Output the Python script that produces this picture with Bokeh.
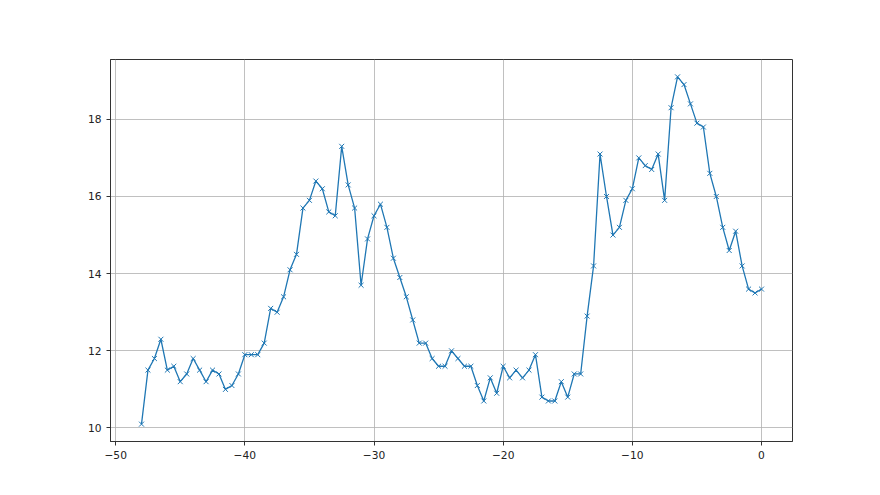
from bokeh.plotting import figure
from bokeh.models import Range1d, FixedTicker
from bokeh.embed import file_html
from bokeh.resources import INLINE

x_start = -48.0
x_step = 0.5
y_values = [
    10.1, 11.5, 11.8, 12.3, 11.5, 11.6, 11.2, 11.4, 11.8, 11.5,
    11.2, 11.5, 11.4, 11.0, 11.1, 11.4, 11.9, 11.9, 11.9, 12.2,
    13.1, 13.0, 13.4, 14.1, 14.5, 15.7, 15.9, 16.4, 16.2, 15.6,
    15.5, 17.3, 16.3, 15.7, 13.7, 14.9, 15.5, 15.8, 15.2, 14.4,
    13.9, 13.4, 12.8, 12.2, 12.2, 11.8, 11.6, 11.6, 12.0, 11.8,
    11.6, 11.6, 11.1, 10.7, 11.3, 10.9, 11.6, 11.3, 11.5, 11.3,
    11.5, 11.9, 10.8, 10.7, 10.7, 11.2, 10.8, 11.4, 11.4, 12.9,
    14.2, 17.1, 16.0, 15.0, 15.2, 15.9, 16.2, 17.0, 16.8, 16.7,
    17.1, 15.9, 18.3, 19.1, 18.9, 18.4, 17.9, 17.8, 16.6, 16.0,
    15.2, 14.6, 15.1, 14.2, 13.6, 13.5, 13.6,
]
x_values = [x_start + i * x_step for i in range(len(y_values))]
x_ticks = [-50, -40, -30, -20, -10, 0]
y_ticks = [10, 12, 14, 16, 18]

x_span = x_values[-1] - x_values[0]
y_span = max(y_values) - min(y_values)

p = figure(width=872, height=487, output_backend="svg", toolbar_location=None,
           x_range=Range1d(x_values[0] - 0.05 * x_span, x_values[-1] + 0.05 * x_span),
           y_range=Range1d(min(y_values) - 0.05 * y_span, max(y_values) + 0.05 * y_span),
           min_border_left=110, min_border_right=80, min_border_top=59, min_border_bottom=46)

p.line(x_values, y_values, line_color="#1f77b4", line_width=1.3)
p.scatter(x_values, y_values, marker="x", size=7, line_color="#1f77b4", line_width=1)

p.xaxis.ticker = FixedTicker(ticks=x_ticks)
p.yaxis.ticker = FixedTicker(ticks=y_ticks)
for ax in (p.xaxis[0], p.yaxis[0]):
    ax.minor_tick_line_color = None
    ax.major_tick_out = 4
    ax.major_tick_in = 0
    ax.axis_line_color = "#333333"
    ax.major_tick_line_color = "#333333"
    ax.major_label_text_font = "DejaVu Sans"
    ax.major_label_text_font_size = "8pt"
    ax.major_label_text_color = "#222222"
p.xaxis.major_label_overrides = {t: ("\u2212" + str(abs(t)) if t < 0 else str(t)) for t in x_ticks}

p.xgrid.grid_line_color = "#b0b0b0"
p.ygrid.grid_line_color = "#b0b0b0"
p.xgrid.grid_line_width = 0.8
p.ygrid.grid_line_width = 0.8
p.outline_line_color = "#333333"
p.outline_line_width = 1
p.background_fill_color = "white"
p.border_fill_color = "white"

open("out.html", "w").write(file_html(p, INLINE))
